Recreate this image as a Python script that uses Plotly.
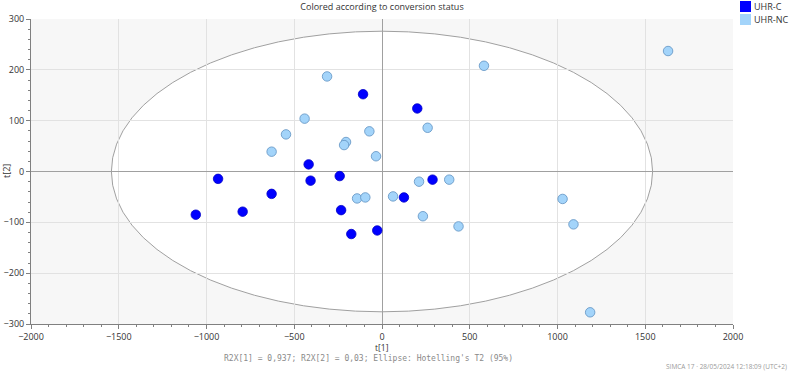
import plotly.graph_objects as go

# UHR-C (converters)
c_t1 = [-108, -418, -934, -407, -241, 201, 288, -629, -1061, -794, -233, -175, -27, 125]
c_t2 = [152, 14, -14.5, -18, -9, 124, -16, -44, -85, -79, -76, -123, -116, -51]

# UHR-NC (non-converters)
nc_t1 = [-313, -441, -547, -72, -205, -216, -629, -34, 1630, 581, 260, 211, 383,
         -142, -95, 63, 233, 436, 1029, 1091, 1186]
nc_t2 = [187, 104, 73, 79, 58, 52, 39, 30, 237, 208, 86, -20, -16,
         -53, -51, -49, -88, -108, -54, -104, -277]

ellipse_a = 1542
ellipse_b = 276

x_ticks = [-2000, -1500, -1000, -500, 0, 500, 1000, 1500, 2000]
y_ticks = [-300, -200, -100, 0, 100, 200, 300]

series_names = ["UHR-C", "UHR-NC"]
series_colors = ["#0000ff", "#a3d4fa"]
series_edges = ["#0000c8", "#5f92c2"]

FONT = "Open Sans"
TXT = "#333333"

L, R, T, B = 31, 57, 19, 47
W, H = 790, 371
PW, PH = W - L - R, H - T - B


def px_x(px):
    return (px - L) / PW


def px_y(py):
    return (H - B - py) / PH


fig = go.Figure()

for xs, ys, name, col, edge in [(c_t1, c_t2, series_names[0], series_colors[0], series_edges[0]),
                                 (nc_t1, nc_t2, series_names[1], series_colors[1], series_edges[1])]:
    fig.add_trace(go.Scatter(
        x=xs, y=ys, mode="markers", name=name, showlegend=False,
        marker=dict(size=9.5, color=col, line=dict(color=edge, width=0.8)),
    ))

fig.add_shape(type="circle", xref="x", yref="y",
              x0=-ellipse_a, x1=ellipse_a, y0=-ellipse_b, y1=ellipse_b,
              fillcolor="white", line=dict(color="#a0a0a0", width=1), layer="below")

# legend (square swatches, as in the reference)
for i, (name, col) in enumerate(zip(series_names, series_colors)):
    top = 1 + 13 * i
    fig.add_shape(type="rect", xref="paper", yref="paper",
                  x0=px_x(740), x1=px_x(751), y0=px_y(top + 11), y1=px_y(top),
                  fillcolor=col, line=dict(width=0))
    fig.add_annotation(text=name, xref="paper", yref="paper",
                       x=px_x(752.5), xanchor="left", y=px_y(top + 5.5), yanchor="middle",
                       showarrow=False, font=dict(family=FONT, size=9, color=TXT))

fig.update_layout(
    width=W, height=H,
    margin=dict(l=L, r=R, t=T, b=B),
    paper_bgcolor="white",
    plot_bgcolor="#f7f7f7",
    font=dict(family=FONT, size=9, color=TXT),
    showlegend=False,
    title=dict(text="Colored according to conversion status", x=0.5, xref="paper",
               y=1 - 7 / H, yanchor="middle", font=dict(size=9, color=TXT)),
)

fig.update_xaxes(
    range=[-2000, 2000], tickvals=x_ticks, automargin=False,
    showgrid=True, gridcolor="#e2e2e2", gridwidth=1,
    zeroline=True, zerolinecolor="#a0a0a0", zerolinewidth=1,
    showline=True, linecolor="#808080", linewidth=1,
    ticks="outside", ticklen=4, tickcolor="#808080",
    minor=dict(dtick=100, ticks="outside", ticklen=2, tickcolor="#808080", showgrid=False),
    tickfont=dict(size=9, color=TXT),
)
fig.update_yaxes(
    range=[-300, 300], tickvals=y_ticks, automargin=False,
    showgrid=True, gridcolor="#e2e2e2", gridwidth=1,
    zeroline=True, zerolinecolor="#a0a0a0", zerolinewidth=1,
    showline=True, linecolor="#808080", linewidth=1,
    ticks="outside", ticklen=4, tickcolor="#808080",
    minor=dict(dtick=20, ticks="outside", ticklen=2, tickcolor="#808080", showgrid=False),
    tickfont=dict(size=9, color=TXT),
)

# axis titles
fig.add_annotation(text="t[1]", xref="paper", yref="paper", x=px_x(381.5), y=px_y(347.5),
                   yanchor="middle", showarrow=False, font=dict(family=FONT, size=8.5, color=TXT))
fig.add_annotation(text="t[2]", xref="paper", yref="paper", x=px_x(6), y=px_y(171),
                   xanchor="center", yanchor="middle", textangle=-90,
                   showarrow=False, font=dict(family=FONT, size=9, color=TXT))

fig.add_annotation(text="R2X[1] = 0,937; R2X[2] = 0,03; Ellipse: Hotelling's T2 (95%)",
                   xref="paper", yref="paper", x=px_x(368), y=px_y(358), yanchor="middle",
                   showarrow=False, font=dict(family="DejaVu Sans Mono", size=8, color="#8a8a8a"))
fig.add_annotation(text="SIMCA 17 · 28/05/2024 12:18:09 (UTC+2)",
                   xref="paper", yref="paper", x=px_x(789), xanchor="right", y=px_y(366),
                   yanchor="middle", showarrow=False,
                   font=dict(family=FONT, size=6.5, color="#9a9a9a"))

fig.write_html("out.html")
